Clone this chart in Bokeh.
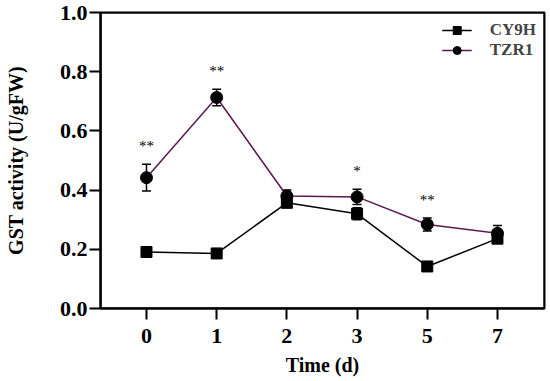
from bokeh.plotting import figure
from bokeh.models import (ColumnDataSource, Whisker, TeeHead, Range1d, FixedTicker, Legend,
                          LegendItem, NumeralTickFormatter, BoxAnnotation)
from bokeh.core.properties import value
from bokeh.embed import file_html
from bokeh.resources import INLINE

days = ["0", "1", "2", "3", "5", "7"]
cy9h = [0.191, 0.186, 0.357, 0.320, 0.142, 0.236]
cy9h_err = [0.008, 0.008, 0.012, 0.020, 0.012, 0.015]
tzr1 = [0.442, 0.713, 0.380, 0.377, 0.284, 0.254]
tzr1_err = [0.045, 0.028, 0.020, 0.026, 0.022, 0.026]
sig = ["**", "**", "", "*", "**", ""]

FONT = "Liberation Serif"
PURPLE = "#5b1a4c"

x = list(range(len(days)))

p = figure(width=548, height=380, output_backend="svg", toolbar_location=None,
           x_range=Range1d(-0.655, 5.67), y_range=Range1d(0, 1.0),
           min_border_left=100, min_border_right=4, min_border_top=12, min_border_bottom=72)
p.grid.visible = False
p.outline_line_color = "black"
p.outline_line_width = 2
p.background_fill_color = "white"

# full-frame box border (top and right sides of the frame)
p.add_layout(BoxAnnotation(fill_alpha=0, line_color="black", line_width=2, line_alpha=1))

src_c = ColumnDataSource(dict(x=x, y=cy9h, lo=[a - b for a, b in zip(cy9h, cy9h_err)],
                              hi=[a + b for a, b in zip(cy9h, cy9h_err)]))
src_t = ColumnDataSource(dict(x=x, y=tzr1, lo=[a - b for a, b in zip(tzr1, tzr1_err)],
                              hi=[a + b for a, b in zip(tzr1, tzr1_err)]))

for src in (src_t, src_c):
    w = Whisker(base="x", upper="hi", lower="lo", source=src, line_color="black", line_width=1.5,
                upper_head=TeeHead(size=9, line_color="black", line_width=1.5),
                lower_head=TeeHead(size=9, line_color="black", line_width=1.5))
    p.add_layout(w)

lc = p.line("x", "y", source=src_c, line_color="black", line_width=1.5)
mc = p.scatter("x", "y", source=src_c, marker="square", size=11, fill_color="black", line_color="black")
lt = p.line("x", "y", source=src_t, line_color=PURPLE, line_width=1.5)
mt = p.scatter("x", "y", source=src_t, marker="circle", size=12, fill_color="black", line_color="black")

star_src = ColumnDataSource(dict(x=x, y=[h + 0.062 for h in src_t.data["hi"]], t=sig))
p.text("x", "y", text="t", source=star_src, text_align="center", text_baseline="middle",
       text_font=value(FONT), text_font_size="15px", text_color="black")

legend = Legend(items=[LegendItem(label="CY9H", renderers=[lc, mc]),
                       LegendItem(label="TZR1", renderers=[lt, mt])],
                location="top_right", border_line_color=None, background_fill_alpha=0,
                label_text_font=FONT, label_text_font_style="bold", label_text_font_size="17px",
                glyph_width=30, label_standoff=18, spacing=0, margin=8, padding=4)
p.add_layout(legend)

p.xaxis.ticker = FixedTicker(ticks=x)
p.xaxis.major_label_overrides = {i: d for i, d in zip(x, days)}
p.yaxis.ticker = FixedTicker(ticks=[0, 0.2, 0.4, 0.6, 0.8, 1.0])
p.yaxis.formatter = NumeralTickFormatter(format="0.0")
p.xaxis.axis_label = "Time (d)"
p.yaxis.axis_label = "GST activity (U/gFW)"
for ax in (p.xaxis, p.yaxis):
    ax.axis_line_width = 2
    ax.major_tick_line_width = 2
    ax.major_tick_out = 11
    ax.major_tick_in = 0
    ax.minor_tick_line_color = None
    ax.major_label_text_font = FONT
    ax.major_label_text_font_style = "bold"
    ax.major_label_text_font_size = "22px"
    ax.major_label_text_color = "black"
    ax.axis_label_text_font = FONT
    ax.axis_label_text_font_style = "bold"
    ax.axis_label_text_font_size = "20px"
    ax.axis_label_text_color = "black"
p.xaxis.major_label_standoff = 9
p.yaxis.major_label_standoff = 2
p.xaxis.axis_label_standoff = 8
p.yaxis.axis_label_standoff = 30

open("out.html", "w").write(file_html(p, INLINE))
